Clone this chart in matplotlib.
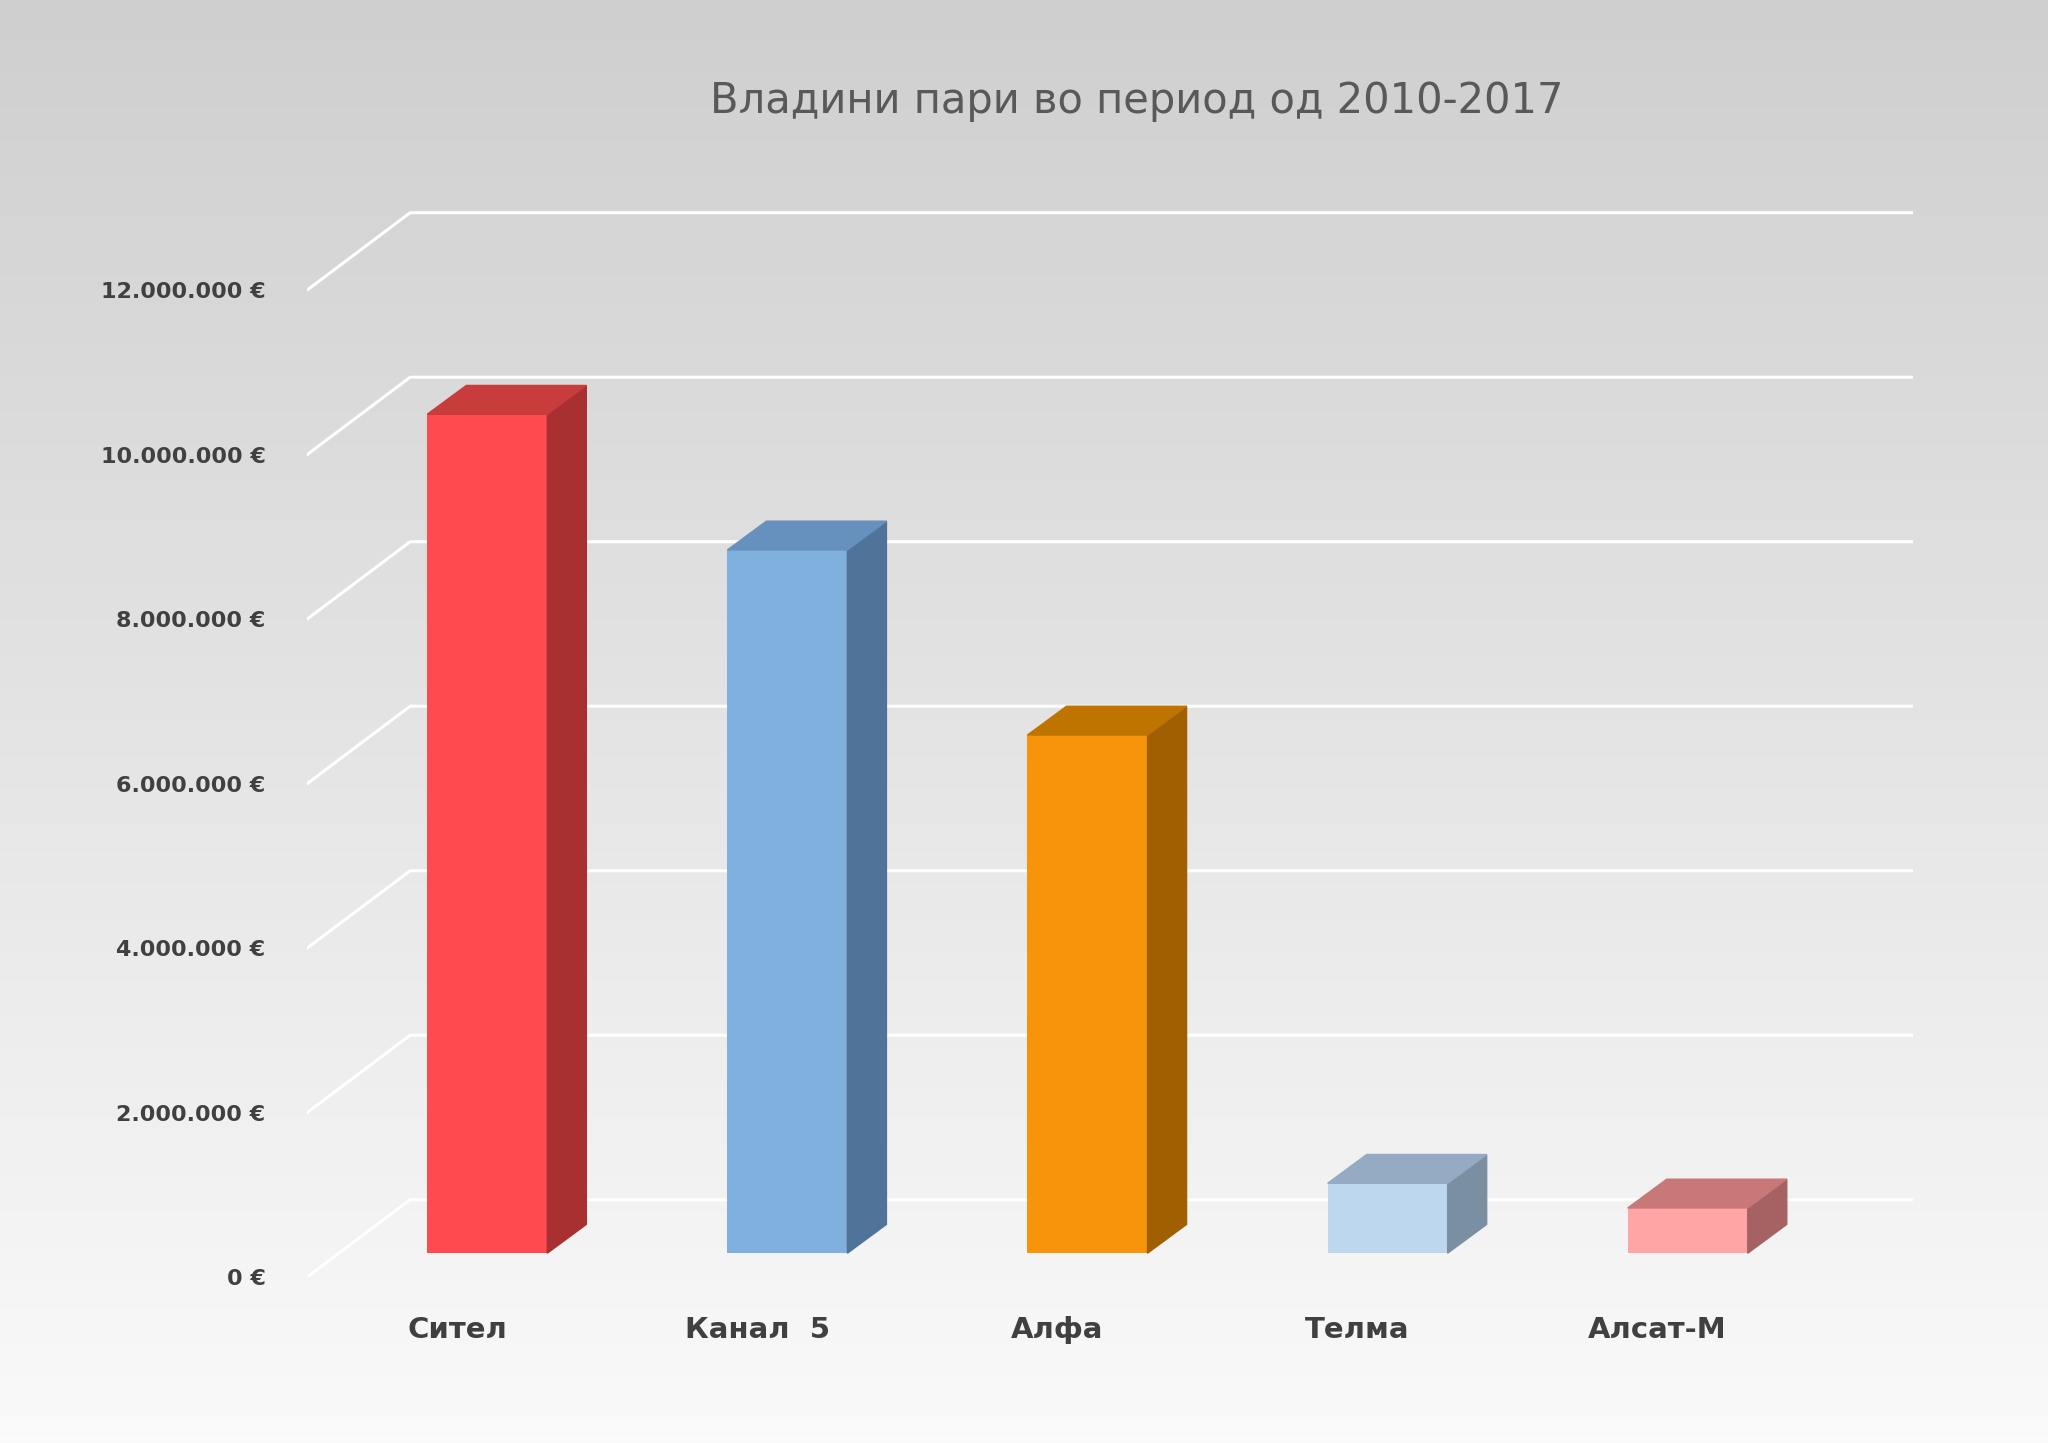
import numpy as np
import matplotlib.pyplot as plt
from matplotlib.patches import Polygon
from matplotlib.colors import LinearSegmentedColormap

# data
channels = ["Сител", "Канал  5", "Алфа", "Телма", "Алсат-М"]
amounts = [10200000, 8550000, 6300000, 850000, 550000]
tick_values = [0, 2000000, 4000000, 6000000, 8000000, 10000000, 12000000]
tick_labels = ["0 €", "2.000.000 €", "4.000.000 €", "6.000.000 €",
               "8.000.000 €", "10.000.000 €", "12.000.000 €"]

front = ["#FF4B4F", "#80B0DD", "#F79409", "#BDD7EE", "#FFA5A5"]
side = ["#A83030", "#50739A", "#A05F00", "#7B8FA3", "#A66262"]
top = ["#C83C3C", "#6690BE", "#C07400", "#95ABC3", "#C87878"]

fig = plt.figure(figsize=(20.48, 14.43), dpi=100)

# gradient background
bg = fig.add_axes([0, 0, 1, 1], zorder=0)
grad = np.linspace(0, 1, 256).reshape(-1, 1)
bg.imshow(grad, aspect="auto", cmap=LinearSegmentedColormap.from_list(
    "g", ["#CFCFCF", "#E4E4E4", "#FAFAFA"]), extent=[0, 1, 0, 1], origin="upper")
bg.axis("off")

ax = fig.add_axes([0.15, 0.115, 0.784, 0.741], zorder=1)
ax.patch.set_alpha(0)
ax.set_xlim(-0.6, 4.75)
ax.set_ylim(0, 13000000)

# pseudo-3d gridlines
gx0, gx1 = -0.6, -0.257
gdy = 940000
for v in tick_values:
    ax.plot([gx0, gx1, 4.75], [v, v + gdy, v + gdy], color="white", lw=2.2, zorder=1)

w = 0.4
ddx, ddy = 0.13, 350000
floor = 290000  # front floor edge sits slightly above the 0 label
x = np.arange(len(channels))
ax.bar(x, amounts, width=w, bottom=floor, color=front, zorder=3)
for i, (xi, h) in enumerate(zip(x, amounts)):
    r = xi + w / 2
    l = xi - w / 2
    t = h + floor
    ax.add_patch(Polygon([(r, floor), (r + ddx, floor + ddy), (r + ddx, t + ddy), (r, t)],
                         closed=True, color=side[i], zorder=3))
    ax.add_patch(Polygon([(l, t), (r, t), (r + ddx, t + ddy), (l + ddx, t + ddy)],
                         closed=True, color=top[i], zorder=3))

ax.set_yticks(tick_values)
ax.set_yticklabels(tick_labels, fontsize=16, fontweight="bold", color="#404040")
ax.set_xticks(x - 0.1)
ax.set_xticklabels(channels, fontsize=21, fontweight="bold", color="#404040")
ax.tick_params(length=0, axis="y", pad=30)
ax.tick_params(length=0, axis="x", pad=28)
for s in ax.spines.values():
    s.set_visible(False)

fig.text(0.555, 0.93, "Владини пари во период од 2010-2017", ha="center", va="center",
         fontsize=30, color="#595959")

fig.savefig("out.png")
